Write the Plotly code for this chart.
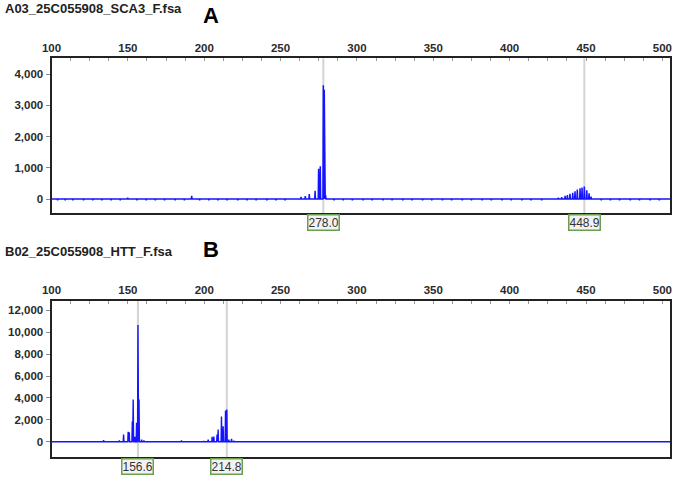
import plotly.graph_objects as go

# ---------------- data ----------------
# Panel A (SCA3): peak sizes (bp) and heights (RFU)
a_peak_x = [149.9, 191.8, 263.4, 266.2, 268.8, 272.6, 274.9, 276.0, 278.0, 278.6, 279.5,
            431.9, 434.1, 436.3, 437.8, 439.5, 441.3, 442.8, 444.3, 446.1, 447.4, 448.9,
            450.5, 452.0, 453.3]
a_peak_y = [40, 100, 70, 95, 160, 260, 970, 1050, 3650, 3500, 120,
            40, 60, 100, 130, 170, 200, 250, 300, 340, 370, 400,
            280, 180, 80]
# small baseline dips (noise) in panel A
a_noise_x = [104, 109, 114, 121, 127, 133, 139, 145, 156, 162, 168, 174, 181, 187,
             197, 203, 209, 215, 222, 228, 234, 241, 247, 253, 285, 291, 297, 304,
             310, 317, 323, 330, 336, 343, 349, 356, 362, 369, 375, 382, 388, 395,
             401, 408, 414, 421, 460, 466, 472, 479, 485, 492, 498]
a_noise_y = [-40] * len(a_noise_x)
a_markers = [278.0, 448.9]
a_ticks_y = [0, 1000, 2000, 3000, 4000]

# Panel B (HTT)
b_peak_x = [134.1, 144.4, 147.2, 150.2, 150.9, 152.9, 153.5, 154.6, 155.7, 156.6, 157.3,
            159.0, 160.5, 185.1, 199.7, 202.6, 205.2, 206.3, 208.4, 209.1, 211.3, 212.4,
            213.95, 214.8, 216.1, 217.9, 219.5]
b_peak_y = [150, 100, 650, 900, 850, 1850, 3850, 450, 1720, 10650, 3850,
            200, 100, 100, 60, 200, 450, 480, 650, 1120, 2300, 1400,
            2850, 2950, 200, 250, 80]
b_markers = [156.6, 214.8]
b_ticks_y = [0, 2000, 4000, 6000, 8000, 10000, 12000]

x_ticks = [100, 150, 200, 250, 300, 350, 400, 450, 500]
titles = ["A03_25C055908_SCA3_F.fsa", "B02_25C055908_HTT_F.fsa"]
letters = ["A", "B"]

X_RANGE = [100, 505]


def spikes(px, py, nx, ny, half=0.25):
    pts = sorted(zip(list(px) + list(nx), list(py) + list(ny)))
    xs, ys = [X_RANGE[0]], [0]
    for c, h in pts:
        xs += [c - half, c, c + half]
        ys += [0, h, 0]
    xs.append(X_RANGE[1])
    ys.append(0)
    return xs, ys


ax, ay = spikes(a_peak_x, a_peak_y, a_noise_x, a_noise_y)
bx, by = spikes(b_peak_x, b_peak_y, [], [])

H = 477.0
W = 676.0
dom_x = [51.5 / W, 670 / W]
dom_a = [1 - 212.8 / H, 1 - 58.3 / H]
dom_b = [1 - 456.7 / H, 1 - 301 / H]

FONT = "Liberation Sans"
TXT = "#2b2b2b"
BLUE = "#1414ff"

fig = go.Figure()
fig.add_trace(go.Scatter(x=ax, y=ay, mode="lines", line=dict(color=BLUE, width=1.5),
                         xaxis="x", yaxis="y", hoverinfo="skip"))
fig.add_trace(go.Scatter(x=bx, y=by, mode="lines", line=dict(color=BLUE, width=1.4),
                         xaxis="x2", yaxis="y2", hoverinfo="skip"))


def xaxis_cfg(anchor):
    return dict(domain=dom_x, range=X_RANGE, side="top", anchor=anchor,
                automargin=False,
                tickvals=x_ticks, ticks="inside", ticklen=3, tickcolor="#9a9a9a",
                minor=dict(dtick=12.5, tick0=100, ticks="inside", ticklen=3,
                           tickcolor="#9a9a9a"),
                showline=True, mirror=True, linecolor="#222222", linewidth=2,
                showgrid=False, zeroline=False,
                tickfont=dict(family=FONT, size=11.5, color=TXT, weight="bold"))


def yaxis_cfg(domain, rng, vals, anchor):
    return dict(domain=domain, range=rng, anchor=anchor, tickvals=vals,
                automargin=False,
                tickformat=",d", ticks="outside", ticklen=4, tickcolor="#8a8a8a",
                showline=True, mirror=True, linecolor="#222222", linewidth=2,
                showgrid=False, zeroline=False,
                tickfont=dict(family=FONT, size=11.5, color=TXT, weight="bold"))


shapes = []
annotations = []
for xref, markers, dom, box_y in (("x", a_markers, dom_a, 222.5),
                                   ("x2", b_markers, dom_b, 466.8)):
    for m in markers:
        shapes.append(dict(type="line", xref=xref, yref="paper", x0=m, x1=m,
                           y0=dom[1], y1=1 - (box_y - 7.5) / H,
                           line=dict(color="#d4d4d4", width=2), layer="below"))
        annotations.append(dict(x=m, xref=xref, y=1 - box_y / H, yref="paper",
                                text=f"{m:.1f}", showarrow=False,
                                xanchor="center", yanchor="middle",
                                font=dict(family=FONT, size=12, color="#333333"),
                                bgcolor="#f2f2f2", bordercolor="#6a9f4f",
                                borderwidth=1.5, borderpad=0))

for title, letter, ty, ly in ((titles[0], letters[0], 8.5, 15.5),
                              (titles[1], letters[1], 251.5, 249.5)):
    annotations.append(dict(x=3 / W, y=1 - ty / H, xref="paper", yref="paper",
                            text=title, showarrow=False, xanchor="left",
                            yanchor="middle",
                            font=dict(family=FONT, size=13, color="#222222",
                                      weight="bold")))
    annotations.append(dict(x=211 / W, y=1 - ly / H, xref="paper", yref="paper",
                            text=letter, showarrow=False, xanchor="center",
                            yanchor="middle",
                            font=dict(family=FONT, size=22, color="#000000",
                                      weight="bold")))

fig.update_layout(
    width=676, height=477,
    margin=dict(l=0, r=0, t=0, b=0, autoexpand=False),
    paper_bgcolor="white", plot_bgcolor="white",
    showlegend=False,
    xaxis=xaxis_cfg("y"),
    yaxis=yaxis_cfg(dom_a, [-442, 4510], a_ticks_y, "x"),
    xaxis2=xaxis_cfg("y2"),
    yaxis2=yaxis_cfg(dom_b, [-1370, 12849], b_ticks_y, "x2"),
    shapes=shapes,
    annotations=annotations,
)

fig.write_html("out.html")
